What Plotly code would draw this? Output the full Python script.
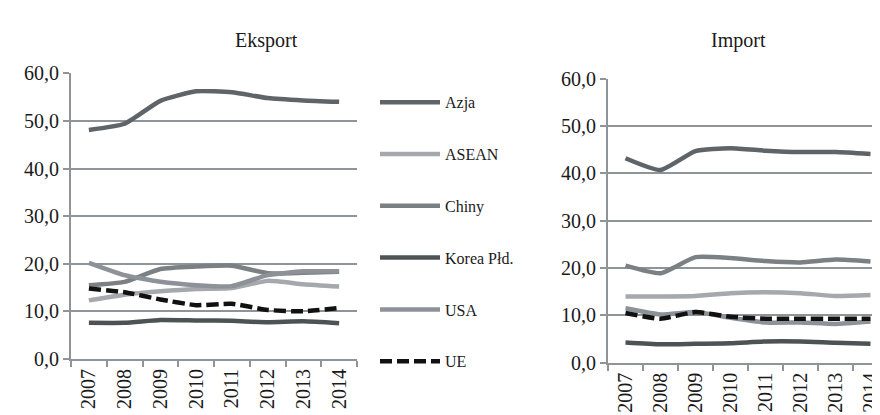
import plotly.graph_objects as go

years = ["2007", "2008", "2009", "2010", "2011", "2012", "2013", "2014"]
series_names = ["Azja", "ASEAN", "Chiny", "Korea Płd.", "USA", "UE"]

# Eksport (left panel)
exp_azja = [48.1, 49.4, 54.2, 56.2, 56.0, 54.8, 54.3, 54.0]
exp_asean = [12.3, 13.5, 14.2, 14.7, 14.9, 16.4, 15.7, 15.2]
exp_chiny = [15.5, 16.2, 18.9, 19.4, 19.6, 18.0, 18.1, 18.3]
exp_korea = [7.6, 7.6, 8.2, 8.1, 8.0, 7.7, 7.9, 7.5]
exp_usa = [20.2, 17.6, 16.2, 15.5, 15.3, 17.6, 18.4, 18.4]
exp_ue = [14.8, 14.0, 12.5, 11.3, 11.6, 10.3, 10.0, 10.7]

# Import (right panel)
imp_azja = [43.2, 40.7, 44.7, 45.3, 44.8, 44.5, 44.5, 44.1]
imp_asean = [14.0, 14.0, 14.1, 14.7, 14.9, 14.7, 14.1, 14.3]
imp_chiny = [20.5, 18.9, 22.3, 22.1, 21.5, 21.2, 21.8, 21.4]
imp_korea = [4.3, 3.9, 4.0, 4.1, 4.5, 4.5, 4.2, 4.0]
imp_usa = [11.5, 10.2, 10.7, 9.5, 8.5, 8.5, 8.2, 8.7]
imp_ue = [10.5, 9.3, 10.7, 9.7, 9.3, 9.3, 9.3, 9.3]

y_ticks = [0, 10, 20, 30, 40, 50, 60]
y_tick_labels = ["0,0", "10,0", "20,0", "30,0", "40,0", "50,0", "60,0"]

colors = {
    "Azja": "#5e6467",
    "ASEAN": "#a5a8ac",
    "Chiny": "#7b8084",
    "Korea Płd.": "#4d5355",
    "USA": "#8c9297",
    "UE": "#111111",
}

FONT = "Liberation Serif, Times New Roman, serif"
GRID = "#8f9499"

fig = go.Figure()

exp_data = [exp_azja, exp_asean, exp_chiny, exp_korea, exp_usa, exp_ue]
imp_data = [imp_azja, imp_asean, imp_chiny, imp_korea, imp_usa, imp_ue]

for name, vals in zip(series_names, exp_data):
    fig.add_trace(go.Scatter(
        x=years, y=vals, name=name, mode="lines",
        line=dict(color=colors[name], width=4.5, shape="spline", smoothing=0.5,
                  dash="12px,5px" if name == "UE" else "solid"),
        xaxis="x", yaxis="y", legendgroup=name, showlegend=True,
    ))

for name, vals in zip(series_names, imp_data):
    fig.add_trace(go.Scatter(
        x=years, y=vals, name=name, mode="lines",
        line=dict(color=colors[name], width=4.5, shape="spline", smoothing=0.5,
                  dash="12px,5px" if name == "UE" else "solid"),
        xaxis="x2", yaxis="y2", legendgroup=name, showlegend=False,
    ))

W, H = 880, 415

axis_common_x = dict(
    type="category", tickson="boundaries", ticks="outside", ticklen=6,
    tickwidth=2, tickcolor=GRID, showline=True, linecolor=GRID, linewidth=2,
    showgrid=False, tickangle=-90, tickfont=dict(family=FONT, size=20, color="#1a1a1a"),
    fixedrange=True,
)
axis_common_y = dict(
    range=[0, 60], tickvals=y_ticks, ticktext=y_tick_labels, ticks="outside",
    ticklen=6, tickwidth=2, tickcolor=GRID, showline=True, linecolor=GRID,
    linewidth=2, showgrid=True, gridcolor=GRID, gridwidth=2, zeroline=False,
    tickfont=dict(family=FONT, size=20, color="#1a1a1a"), fixedrange=True,
)

fig.update_layout(
    width=W, height=H,
    margin=dict(l=0, r=0, t=0, b=0),
    paper_bgcolor="white", plot_bgcolor="white",
    xaxis=dict(axis_common_x, domain=[63 / W, 349 / W], range=[-0.5, 7.5]),
    yaxis=dict(axis_common_y, domain=[(H - 359) / H, (H - 57.3) / H]),
    xaxis2=dict(axis_common_x, domain=[600 / W, 1.0], range=[-0.5, 7.5], anchor="y2"),
    yaxis2=dict(axis_common_y, domain=[(H - 363) / H, (H - 63) / H], anchor="x2"),
    legend=dict(
        x=367 / W, xanchor="left", y=(H - 70) / H, yanchor="top",
        font=dict(family=FONT, size=16, color="#1a1a1a"),
        tracegroupgap=28, itemwidth=60, bgcolor="rgba(0,0,0,0)",
    ),
    annotations=[
        dict(text="Eksport", x=258 / W, y=1 - 23 / H, xref="paper", yref="paper",
             xanchor="center", yanchor="middle",
             showarrow=False, font=dict(family=FONT, size=20, color="#1a1a1a")),
        dict(text="Import", x=730 / W, y=1 - 23 / H, xref="paper", yref="paper",
             xanchor="center", yanchor="middle",
             showarrow=False, font=dict(family=FONT, size=20, color="#1a1a1a")),
    ],
)

fig.write_html("out.html")
